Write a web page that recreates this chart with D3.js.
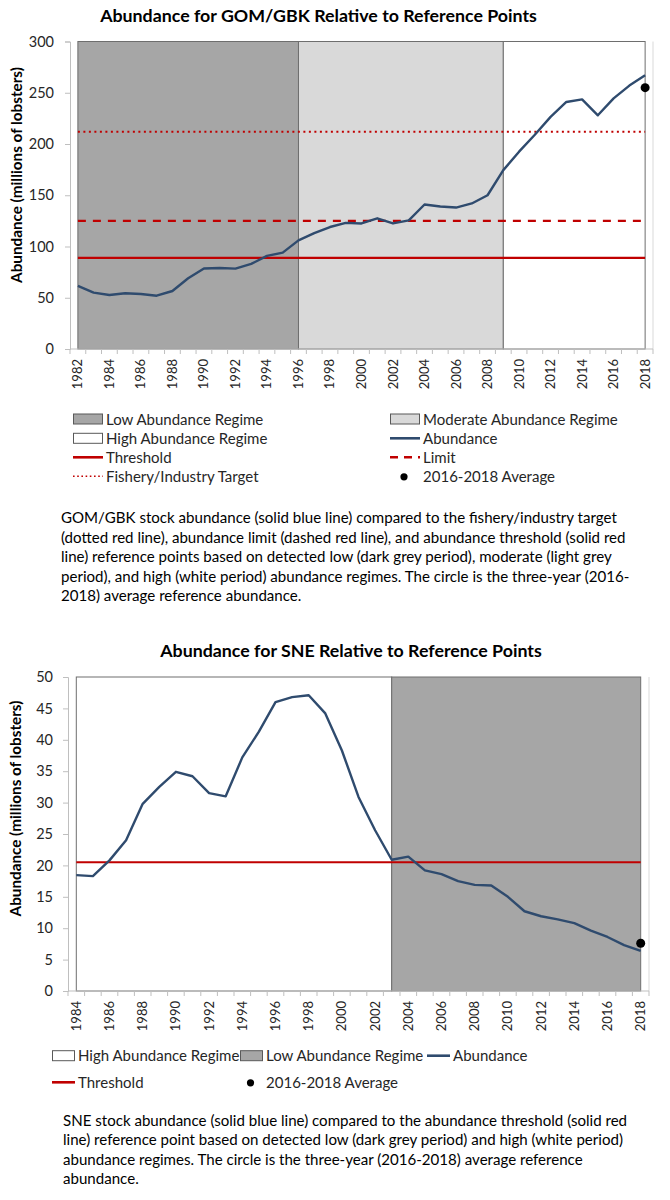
<!DOCTYPE html>
<html><head><meta charset="utf-8">
<script src="https://cdn.jsdelivr.net/npm/d3@7"></script>
<style>
body{margin:0;background:#fff;}
svg{display:block;font-family:Lato, "Open Sans", sans-serif;}
</style></head>
<body><svg id="c" width="670" height="1200"></svg>
<script>
// ---------- DATA ----------
const gomYears = d3.range(1982, 2019);
const gomAbundance = [61.5,55,52.7,54.4,53.7,52,56.6,69,78.5,79,78.4,83,90.8,94,106,113,119,123,122.5,127.5,122.5,125.5,141,139,138,142,150,174.5,192.5,209,226.5,241,243.5,228,244.5,257,267];
const gomThreshold = 89;
const gomLimit = 125;
const gomTarget = 212;
const gomAverage = 255;
const gomRegimes = [
  {name:"Low", start:1982, end:1996},
  {name:"Moderate", start:1996, end:2009},
  {name:"High", start:2009, end:2018}
];
const gomYTicks = [0,50,100,150,200,250,300];

const sneYears = d3.range(1984, 2019);
const sneAbundance = [18.45,18.3,20.8,24.0,29.8,32.5,34.9,34.2,31.5,31.0,37.2,41.3,46.0,46.8,47.1,44.2,38.3,30.9,25.6,20.9,21.4,19.2,18.6,17.5,16.9,16.8,15.0,12.7,11.9,11.4,10.8,9.6,8.6,7.3,6.4];
const sneThreshold = 20.5;
const sneAverage = 7.6;
const sneRegimes = [
  {name:"High", start:1984, end:2003},
  {name:"Low", start:2003, end:2018}
];
const sneYTicks = [0,5,10,15,20,25,30,35,40,45,50];

const regimeFill = {Low:"#a6a6a6", Moderate:"#d9d9d9", High:"#ffffff"};

const gomLegend = [
  {label:"Low Abundance Regime", type:"rect", fill:"#a6a6a6"},
  {label:"Moderate Abundance Regime", type:"rect", fill:"#d9d9d9"},
  {label:"High Abundance Regime", type:"rect", fill:"#ffffff"},
  {label:"Abundance", type:"line", color:"#2f4b6e", dash:null},
  {label:"Threshold", type:"line", color:"#c00000", dash:null},
  {label:"Limit", type:"line", color:"#c00000", dash:"8,6"},
  {label:"Fishery/Industry Target", type:"line", color:"#c00000", dash:"1.6,2.6"},
  {label:"2016-2018 Average", type:"dot"}
];
const gomCaption = [
  "GOM/GBK stock abundance (solid blue line) compared to the fishery/industry target",
  "(dotted red line), abundance limit  (dashed red line), and abundance threshold (solid red",
  "line) reference points based on detected low (dark grey period), moderate (light grey",
  "period), and high (white period) abundance regimes. The circle is the three-year (2016-",
  "2018) average reference abundance."
];
const sneLegend = [
  {label:"High Abundance Regime", type:"rect", fill:"#ffffff"},
  {label:"Low Abundance Regime", type:"rect", fill:"#a6a6a6"},
  {label:"Abundance", type:"line", color:"#2f4b6e", dash:null},
  {label:"Threshold", type:"line", color:"#c00000", dash:null},
  {label:"2016-2018 Average", type:"dot"}
];
const sneCaption = [
  "SNE stock abundance (solid blue line) compared to the abundance threshold (solid red",
  "line) reference point based on detected low (dark grey period) and high (white period)",
  "abundance regimes. The circle is the three-year (2016-2018) average reference",
  "abundance."
];

// ---------- DRAW ----------
const svg = d3.select("#c");
const LINE = "#2f4b6e", RED = "#c00000";

function fitSize(txt, width, weight){
  const t = svg.append("text").attr("font-size",20).attr("font-weight",weight||"normal").text(txt);
  const w = t.node().getComputedTextLength();
  t.remove();
  return 20*width/w;
}

function chart(o){
  const g = svg.append("g");
  const x = d3.scaleBand().domain(o.years).range([o.left, o.right]).paddingInner(0).paddingOuter(0);
  const cx = yr => x(yr) + x.bandwidth()/2;
  const y = d3.scaleLinear().domain([0, o.ymax]).range([o.bottom, o.top]);

  g.append("text").attr("x", o.titleX).attr("y", o.titleY).attr("text-anchor","middle")
    .attr("font-weight","bold").attr("font-size",fitSize(o.title,o.titleW,"bold")).attr("fill","#000").text(o.title);

  g.selectAll("rect.reg").data(o.regimes).join("rect").attr("class","reg")
    .attr("x", d=>cx(d.start)).attr("width", d=>cx(d.end)-cx(d.start))
    .attr("y", o.top).attr("height", o.bottom-o.top)
    .attr("fill", d=>regimeFill[d.name]).attr("stroke","#6e6e6e").attr("stroke-width",1);

  g.append("line").attr("x1",o.right).attr("x2",o.right).attr("y1",o.top).attr("y2",o.bottom)
    .attr("stroke","#d9d9d9");

  const ya = d3.axisLeft(y).tickValues(o.yticks).tickSize(5).tickPadding(o.tickPad);
  const yg = g.append("g").attr("transform",`translate(${o.left},0)`).call(ya);
  yg.select(".domain").attr("stroke","#bfbfbf");
  yg.selectAll(".tick line").attr("stroke","#bfbfbf");
  yg.selectAll("text").attr("font-size",14.5).attr("fill","#262626").attr("font-family","Lato");

  g.append("line").attr("x1",o.left).attr("x2",o.right).attr("y1",o.bottom).attr("y2",o.bottom).attr("stroke","#bfbfbf");
  const edges = o.years.map(yr=>x(yr)).concat([o.right]);
  g.selectAll("line.xt").data(edges).join("line").attr("class","xt")
    .attr("x1",d=>d).attr("x2",d=>d).attr("y1",o.bottom).attr("y2",o.bottom+5).attr("stroke","#bfbfbf");
  g.selectAll("text.xl").data(o.years.filter((d,i)=>i%2===0)).join("text").attr("class","xl")
    .attr("transform", d=>`translate(${cx(d)+4.5},${o.bottom+10}) rotate(-90)`)
    .attr("text-anchor","end").attr("font-size",13).attr("fill","#262626").text(d=>d);

  const yl = "Abundance (millions of lobsters)";
  g.append("text").attr("transform",`translate(${o.ylabX},${o.ylabY}) rotate(-90)`)
    .attr("text-anchor","middle").attr("font-weight","bold").attr("font-size",fitSize(yl,216,"bold")).attr("fill","#000")
    .text(yl);

  o.refs.forEach(r=>{
    g.append("line").attr("x1",cx(o.years[0])).attr("x2",cx(o.years[o.years.length-1]))
      .attr("y1",y(r.v)).attr("y2",y(r.v)).attr("stroke",RED).attr("stroke-width",r.w||2.2)
      .attr("stroke-dasharray",r.dash||null);
  });

  g.append("path").datum(o.years.map((yr,i)=>[yr,o.values[i]]))
    .attr("d", d3.line().x(d=>cx(d[0])).y(d=>y(d[1])))
    .attr("fill","none").attr("stroke",LINE).attr("stroke-width",2.4).attr("stroke-linejoin","round");

  g.append("circle").attr("cx",cx(o.years[o.years.length-1])).attr("cy",y(o.avg)).attr("r",4.5).attr("fill","#000");
}

chart({years:gomYears, values:gomAbundance, ymax:300, yticks:gomYTicks, regimes:gomRegimes,
  left:70, right:653, top:41.5, bottom:349, title:"Abundance for GOM/GBK Relative to Reference Points",
  titleX:318.5, titleY:22, titleW:437, ylabX:22, ylabY:175, avg:gomAverage, tickPad:11,
  refs:[{v:gomThreshold},{v:gomLimit, dash:"8,7"},{v:gomTarget, dash:"2,3.5", w:2}]});

chart({years:sneYears, values:sneAbundance, ymax:50, yticks:sneYTicks, regimes:sneRegimes,
  left:68, right:649, top:677, bottom:991, title:"Abundance for SNE Relative to Reference Points",
  titleX:351, titleY:657, titleW:382, ylabX:21, ylabY:808.5, avg:sneAverage, tickPad:10,
  refs:[{v:sneThreshold}]});

const legendFont = fitSize("Moderate Abundance Regime", 195);
function legendItem(g, d, x, y, sw){
  if(d.type==="rect"){
    g.append("rect").attr("x",x+0.5).attr("y",y-5).attr("width",sw-1).attr("height",10)
      .attr("fill",d.fill).attr("stroke","#595959").attr("stroke-width",1);
  } else if(d.type==="line"){
    g.append("line").attr("x1",x).attr("x2",x+sw).attr("y1",y).attr("y2",y)
      .attr("stroke",d.color).attr("stroke-width",d.dash&&d.dash.startsWith("1.6")?1.6:2.6).attr("stroke-dasharray",d.dash);
  } else {
    g.append("circle").attr("cx",x+sw/2-1).attr("cy",y+0.5).attr("r",3.6).attr("fill","#000");
  }
  g.append("text").attr("x",x+sw+3).attr("y",y+5.5).attr("font-size",legendFont).attr("fill","#262626").text(d.label);
}

const lg1 = svg.append("g");
const gomRows = [419, 438.3, 457.3, 476.3];
gomLegend.forEach((d,i)=>{
  const col = i%2, row = Math.floor(i/2);
  legendItem(lg1, d, col===0?73:390, gomRows[row], 30);
});

const lg2 = svg.append("g");
const snePos = [[52,1055.7],[240,1055.7],[427,1055.7],[52,1082.3],[240,1082.3]];
sneLegend.forEach((d,i)=>legendItem(lg2, d, snePos[i][0], snePos[i][1], 23));

const capFont = fitSize(gomCaption[0], 556);
svg.append("g").selectAll("text").data(gomCaption).join("text")
  .attr("x",61).attr("y",(d,i)=>523.3+i*19.4).attr("font-size",capFont).attr("fill","#000").text(d=>d);
svg.append("g").selectAll("text").data(sneCaption).join("text")
  .attr("x",63).attr("y",(d,i)=>1126+i*19.4).attr("font-size",capFont).attr("fill","#000").text(d=>d);
</script></body></html>
